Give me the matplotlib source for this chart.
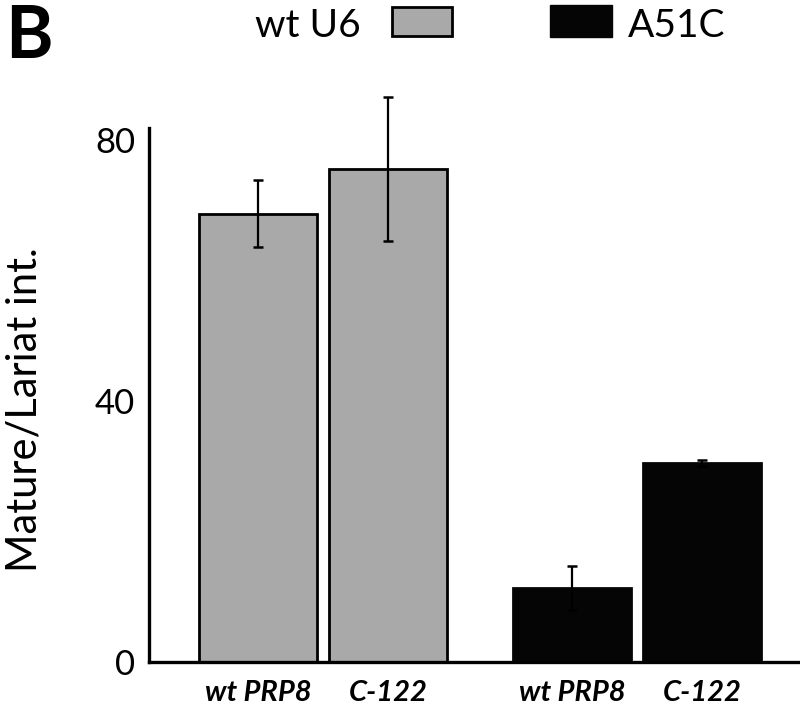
import matplotlib
matplotlib.use("Agg")
import matplotlib.pyplot as plt
from matplotlib.patches import Rectangle

# ---- data ----
series_names = ["wt U6", "A51C"]
categories = ["wt PRP8", "C-122", "wt PRP8", "C-122"]
values = [68.7, 75.5, 11.3, 30.5]
errors = [5.2, 11.0, 3.4, 0.5]
series_of_bar = [0, 0, 1, 1]
y_ticks = [0, 40, 80]

# ---- style ----
face_colors = ["#a9a9a9", "#050505"]
edge_colors = ["black", "#050505"]
positions = [0.0, 1.0, 2.415, 3.415]
bar_width = 0.91

plt.rcParams['font.family'] = ['Lato', 'DejaVu Sans']

fig = plt.figure(figsize=(8.0, 7.07), dpi=100)
ax = fig.add_axes([149/800, 45/707, (798-149)/800, (662-128)/707])

for i, (x, v, e) in enumerate(zip(positions, values, errors)):
    s = series_of_bar[i]
    ax.bar(x, v, width=bar_width, color=face_colors[s],
           edgecolor=edge_colors[s], linewidth=2.0, zorder=2)
    ax.errorbar(x, v, yerr=e, fmt='none', ecolor='black', elinewidth=1.6,
                capsize=3.5, capthick=1.8, clip_on=False, zorder=3)

ax.set_xlim(-0.838, 4.154)
ax.set_ylim(0, 81.8)
ax.set_yticks(y_ticks)
ax.set_yticklabels([str(t) for t in y_ticks], fontsize=25)
ax.set_xticks(positions)
ax.set_xticklabels(categories, fontsize=21, style='italic', fontweight='bold')
ax.tick_params(axis='both', length=0)
ax.tick_params(axis='y', pad=10)
ax.tick_params(axis='x', pad=13)
for sp in ['top', 'right']:
    ax.spines[sp].set_visible(False)
for sp in ['left', 'bottom']:
    ax.spines[sp].set_linewidth(2.4)

ax.set_ylabel("Mature/Lariat int.", fontsize=30)
ax.yaxis.set_label_coords((44 - 149) / 649, 0.472)

# panel letter
fig.text(5/800, 1 - 58/707, "B", fontsize=52, fontweight='bold', ha='left', va='baseline')

# legend
fig.text(255/800, 1 - 37/707, series_names[0], fontsize=28, ha='left', va='baseline')
fig.patches.append(Rectangle((392/800, 1 - 36/707), 60/800, 29/707,
                             transform=fig.transFigure, facecolor=face_colors[0],
                             edgecolor='black', linewidth=2.0))
fig.patches.append(Rectangle((550/800, 1 - 37/707), 62/800, 32/707,
                             transform=fig.transFigure, facecolor=face_colors[1],
                             edgecolor=face_colors[1], linewidth=1.0))
fig.text(628/800, 1 - 37/707, series_names[1], fontsize=28, ha='left', va='baseline')

fig.savefig("out.png", dpi=100)
